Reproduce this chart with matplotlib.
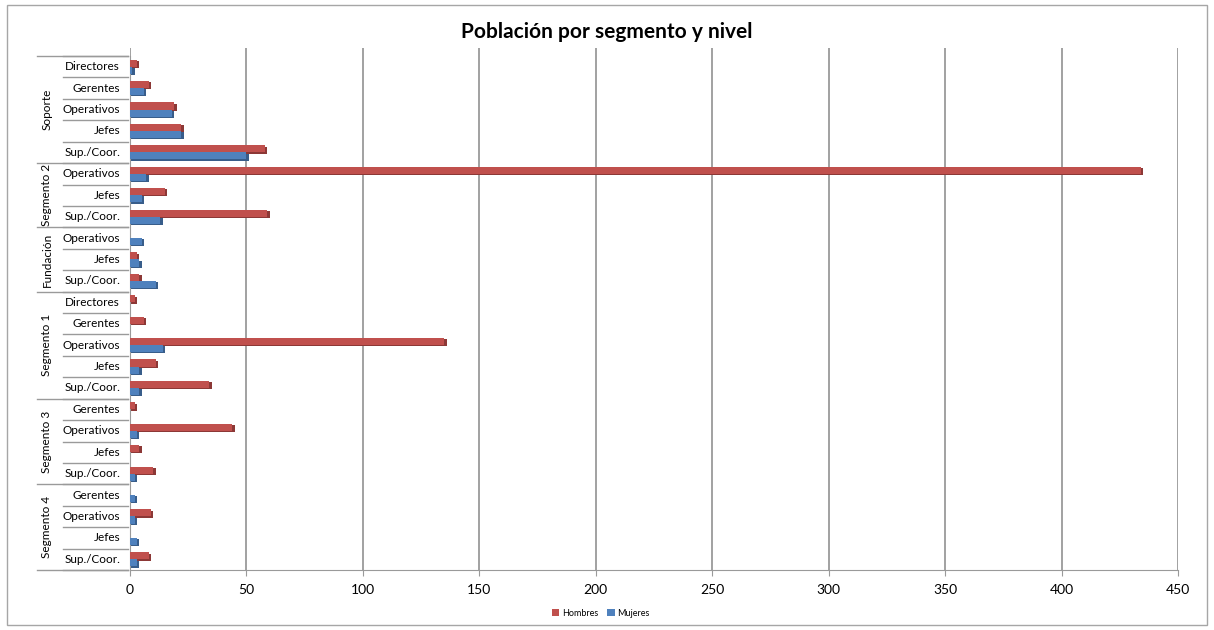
import numpy as np
import matplotlib.pyplot as plt
import matplotlib.transforms as mtransforms
from matplotlib.lines import Line2D
from matplotlib.patches import Rectangle

plt.rcParams['font.family'] = ['Lato', 'DejaVu Sans']

# groups (top to bottom) and their levels
grupos = ['Soporte', 'Segmento 2', 'Fundación', 'Segmento 1', 'Segmento 3', 'Segmento 4']
niveles = [
    ['Directores', 'Gerentes', 'Operativos', 'Jefes', 'Sup./Coor.'],
    ['Operativos', 'Jefes', 'Sup./Coor.'],
    ['Operativos', 'Jefes', 'Sup./Coor.'],
    ['Directores', 'Gerentes', 'Operativos', 'Jefes', 'Sup./Coor.'],
    ['Gerentes', 'Operativos', 'Jefes', 'Sup./Coor.'],
    ['Gerentes', 'Operativos', 'Jefes', 'Sup./Coor.'],
]
hombres = [3, 8, 19, 22, 58,
           434, 15, 59,
           0, 3, 4,
           2, 6, 135, 11, 34,
           2, 44, 4, 10,
           0, 9, 0, 8]
mujeres = [1, 6, 18, 22, 50,
           7, 5, 13,
           5, 4, 11,
           0, 0, 14, 4, 4,
           0, 3, 0, 2,
           2, 2, 3, 3]
xticks = [0, 50, 100, 150, 200, 250, 300, 350, 400, 450]

rojo = '#C0504D'
rojo_osc = '#8C3836'
azul = '#4F81BD'
azul_osc = '#385D8A'
gris = '#9A9A9A'

etiquetas = [n for g in niveles for n in g]
y = np.arange(len(etiquetas))
h = 0.33
hom = np.array(hombres, dtype=float)
muj = np.array(mujeres, dtype=float)

fig = plt.figure(figsize=(12.14, 6.3), dpi=100)
ax = fig.add_axes([130/1214, 1-570/630, 1048/1214, 522/630])

# pseudo 3d: darker face behind each non-zero bar
ax.barh(y - h/2 + 0.06, np.where(hom > 0, hom + 1.0, 0), height=h, color=rojo_osc, zorder=2)
ax.barh(y + h/2 + 0.06, np.where(muj > 0, muj + 1.0, 0), height=h, color=azul_osc, zorder=2)
ax.barh(y - h/2, hom, height=h, color=rojo, label='Hombres', zorder=3)
ax.barh(y + h/2, muj, height=h, color=azul, label='Mujeres', zorder=3)

ax.set_xlim(0, 450)
ax.set_ylim(len(etiquetas) - 0.5, -0.5 - 8/21.4)
ax.set_xticks(xticks)
ax.set_yticks([])
ax.xaxis.grid(True, color=gris, linewidth=1.3)
ax.set_axisbelow(True)
for s in ['top', 'right']:
    ax.spines[s].set_visible(False)
ax.spines['left'].set_color(gris)
ax.spines['left'].set_bounds(len(etiquetas) - 0.5, -0.5)
ax.spines['bottom'].set_color(gris)
ax.tick_params(axis='x', colors=gris, length=4, labelsize=10, labelcolor='black', pad=6)

# multi-level category labels
tr = mtransforms.blended_transform_factory(fig.transFigure, ax.transData)
for i, lab in enumerate(etiquetas):
    ax.text(120/1214, i, lab, transform=tr, ha='right', va='center', fontsize=8.5)
for i in range(len(etiquetas) + 1):
    ax.add_line(Line2D([63/1214, 128/1214], [i - 0.5, i - 0.5], transform=tr,
                       color=gris, linewidth=1, clip_on=False))
inicio = 0
for g, nv in zip(grupos, niveles):
    fin = inicio + len(nv)
    ax.add_line(Line2D([37/1214, 128/1214], [inicio - 0.5, inicio - 0.5], transform=tr,
                       color=gris, linewidth=1, clip_on=False))
    ax.text(47/1214, (inicio + fin - 1) / 2, g, transform=tr, ha='center', va='center',
            rotation=90, fontsize=8.5)
    inicio = fin
ax.add_line(Line2D([37/1214, 128/1214], [inicio - 0.5, inicio - 0.5], transform=tr,
                   color=gris, linewidth=1, clip_on=False))

fig.text(0.5, 1 - 32/630, 'Población por segmento y nivel', ha='center', va='center',
         fontsize=15, fontweight='bold')

fig.legend(loc='center', bbox_to_anchor=(0.495, 1 - 613/630), ncol=2, frameon=False,
           fontsize=6.5, handlelength=0.8, handleheight=0.8, handletextpad=0.3, columnspacing=1.0)

fig.patches.append(Rectangle((7/1214, 5/630), 1200/1214, 620/630, transform=fig.transFigure,
                             fill=False, edgecolor='#A6A6A6', linewidth=1))

plt.savefig('out.png', dpi=100)
